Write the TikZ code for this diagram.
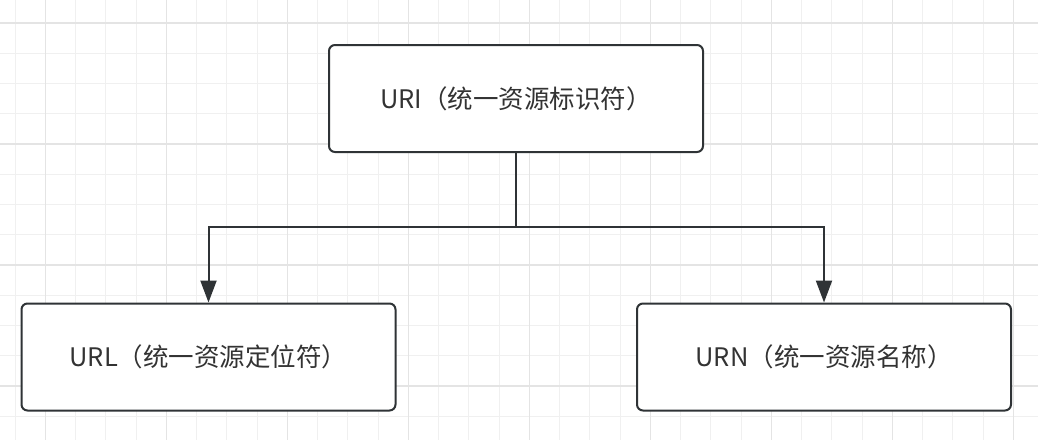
\documentclass[tikz,border=0pt]{standalone}
\usepackage{fontspec}
\newfontfamily\cjk{Noto Sans CJK SC}
\usetikzlibrary{arrows.meta}
\definecolor{minorgrid}{HTML}{F0F0F0}
\definecolor{majorgrid}{HTML}{E4E4E4}
\definecolor{ink}{HTML}{2F3336}
\definecolor{txt}{HTML}{333333}
\tikzset{
  box/.style={draw=ink, line width=2pt, rounded corners=6pt, fill=white,
    minimum width=374pt, minimum height=107pt, inner sep=0pt,
    text=txt, font=\cjk\fontsize{25.5}{30}\selectfont},
  conn/.style={draw=ink, line width=2pt},
  arr/.style={conn, -{Triangle[width=16pt,length=22pt]}},
  minorline/.style={draw=minorgrid, line width=1pt},
  majorline/.style={draw=majorgrid, line width=1.2pt}
}
\begin{document}
\begin{tikzpicture}[x=1pt,y=-1pt]
\useasboundingbox (0,0) rectangle (1038,440);
\fill[white] (0,0) rectangle (1038,440);
% grid
\foreach \i in {0,...,34} {
  \draw[minorline] ({15+30.25*\i},0) -- ({15+30.25*\i},440);
}
\foreach \i in {0,...,14} {
  \draw[minorline] (0,{23+30.25*\i}) -- (1038,{23+30.25*\i});
}
\foreach \i in {0,...,8} {
  \draw[majorline] ({45.25+121*\i},0) -- ({45.25+121*\i},440);
}
\foreach \i in {0,...,3} {
  \draw[majorline] (0,{23+121*\i}) -- (1038,{23+121*\i});
}
% nodes
\node[box] (uri) at (516,98.5) {URI（统一资源标识符）};
\node[box] (url) at (208.5,357) {URL（统一资源定位符）};
\node[box] (urn) at (824,357) {URN（统一资源名称）};
% connectors
\coordinate (j) at (uri.south |- 0,227);
\draw[conn] (uri.south) -- (j);
\draw[arr] (j) -| (url.north);
\draw[arr] (j) -| (urn.north);
\end{tikzpicture}
\end{document}
